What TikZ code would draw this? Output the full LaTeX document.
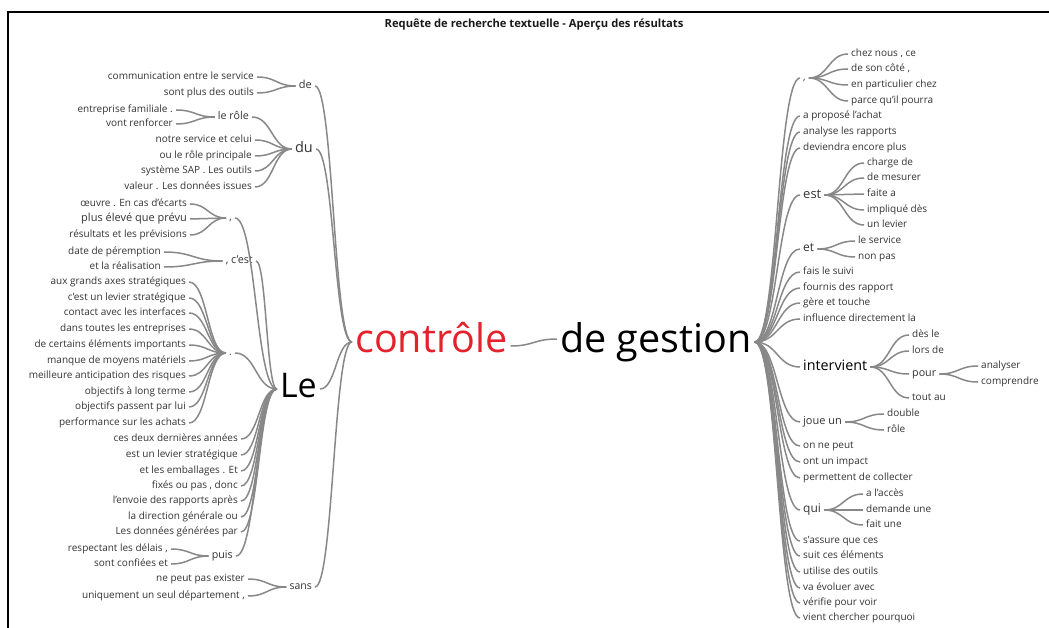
\documentclass[tikz,border=0pt]{standalone}
\usepackage{fontspec}
\setmainfont{Open Sans}
\usetikzlibrary{calc}
\definecolor{ink}{HTML}{333333}
\definecolor{wire}{HTML}{888888}
\definecolor{hot}{HTML}{E3222B}
\begin{document}
\begin{tikzpicture}[x=1pt,y=-1pt,
  sz/.style={font=\fontsize{#1}{#1}\selectfont},
  w/.style={inner xsep=3pt, inner ysep=0pt, text=ink, execute at begin node={\vphantom{Xg}}, sz=10},
  L/.style={w, anchor=east},
  R/.style={w, anchor=west},
  link/.style={draw=wire, line width=1.5pt},
  branch/.style={to path={let \p1=(\tikztostart), \p2=(\tikztotarget), \p3=($(\p1)!.5!(\p2)$) in .. controls (\x3,\y1) and (\x3,\y2) .. (\tikztotarget)}}
]
\useasboundingbox (0,0) rectangle (1049,628);
% frame and heading
\draw[line width=2pt] (8,628) -- (8,12) -- (1049,12);
\node[font=\bfseries\fontsize{11.2}{12}\selectfont, text=black!90] (title) at (534,25) {Requête de recherche textuelle - Aperçu des résultats};

% ---- keyword and its follower
\node[R, sz=39.5, text=hot] (ctl) at (352,342) {contrôle};
\node[R, sz=39.5, text=black] (gest) at (557,342) {de gestion};
\draw[link] ([yshift=-4pt]ctl.east) to[branch] ([yshift=3pt]gest.west);

% ---- words before the keyword
\node[L, sz=11] (de) at (315,86) {de};
\node[L] (de1) at (257,77) {communication entre le service};
\node[L] (de2) at (257,93) {sont plus des outils};

\node[L, sz=14.5] (du) at (316,149) {du};
\node[L, sz=10.7] (role) at (252,117) {le rôle};
\node[L] (role1) at (176,110) {entreprise familiale .};
\node[L] (role2) at (176,124) {vont renforcer};
\node[L] (du1) at (255,140) {notre service et celui};
\node[L] (du2) at (255,156) {ou le rôle principale};
\node[L] (du3) at (255,171) {système SAP . Les outils};
\node[L] (du4) at (255,187) {valeur . Les données issues};

\node[L, sz=34, text=black] (le) at (320,389) {Le};

\node[L] (cm) at (235,218) {,};
\node[L] (cm1) at (190,204) {œuvre . En cas d’écarts};
\node[L, sz=11] (cm2) at (190,219) {plus élevé que prévu};
\node[L] (cm3) at (190,235) {résultats et les prévisions};

\node[L, sz=10.8] (cest) at (256,261) {, c’est};
\node[L] (cest1) at (164,252) {date de péremption};
\node[L] (cest2) at (164,267) {et la réalisation};

\node[L] (dot) at (235,353) {.};
\node[L] (dt1) at (189,282) {aux grands axes stratégiques};
\node[L] (dt2) at (189,298) {c’est un levier stratégique};
\node[L] (dt3) at (189,313) {contact avec les interfaces};
\node[L] (dt4) at (189,329) {dans toutes les entreprises};
\node[L] (dt5) at (189,345) {de certains éléments importants};
\node[L] (dt6) at (189,361) {manque de moyens matériels};
\node[L] (dt7) at (189,376) {meilleure anticipation des risques};
\node[L] (dt8) at (189,392) {objectifs à long terme};
\node[L] (dt9) at (189,407) {objectifs passent par lui};
\node[L] (dt10) at (189,423) {performance sur les achats};

\node[L] (le1) at (241,439) {ces deux dernières années};
\node[L] (le2) at (241,455) {est un levier stratégique};
\node[L] (le3) at (241,471) {et les emballages . Et};
\node[L] (le4) at (241,486) {fixés ou pas , donc};
\node[L] (le5) at (241,501) {l’envoie des rapports après};
\node[L] (le6) at (241,517) {la direction générale ou};
\node[L] (le7) at (241,532) {Les données générées par};

\node[L, sz=10.7] (puis) at (236,556) {puis};
\node[L] (puis1) at (171,549) {respectant les délais ,};
\node[L] (puis2) at (171,564) {sont confiées et};

\node[L, sz=10.5] (sans) at (315,587) {sans};
\node[L] (sans1) at (248,579) {ne peut pas exister};
\node[L] (sans2) at (248,596) {uniquement un seul département ,};

% ---- words after the keyword
\node[R] (rc) at (800,78) {,};
\node[R] (rc1) at (848,54) {chez nous , ce};
\node[R] (rc2) at (848,69) {de son côté ,};
\node[R] (rc3) at (848,85) {en particulier chez};
\node[R] (rc4) at (848,101) {parce qu’il pourra};
\node[R] (ra1) at (800,116) {a proposé l’achat};
\node[R] (ra2) at (800,132) {analyse les rapports};
\node[R] (ra3) at (800,148) {deviendra encore plus};

\node[R, sz=13] (est) at (800,195) {est};
\node[R] (est1) at (864,163) {charge de};
\node[R] (est2) at (864,178) {de mesurer};
\node[R] (est3) at (864,194) {faite a};
\node[R] (est4) at (864,210) {impliqué dès};
\node[R] (est5) at (864,225) {un levier};

\node[R, sz=12] (et) at (800,249) {et};
\node[R] (et1) at (855,241) {le service};
\node[R] (et2) at (855,257) {non pas};

\node[R] (rf1) at (800,272) {fais le suivi};
\node[R] (rf2) at (800,288) {fournis des rapport};
\node[R] (rf3) at (800,303) {gère et touche};
\node[R] (rf4) at (800,319) {influence directement la};

\node[R, sz=14.3, text=black] (iv) at (800,367) {intervient};
\node[R] (iv1) at (909,335) {dès le};
\node[R] (iv2) at (909,351) {lors de};
\node[R, sz=10.7] (pour) at (909,374) {pour};
\node[R] (iv4) at (909,398) {tout au};
\node[R] (pour1) at (978,366) {analyser};
\node[R] (pour2) at (978,382) {comprendre};

\node[R, sz=11] (joue) at (800,422) {joue un};
\node[R] (joue1) at (884,414) {double};
\node[R] (joue2) at (884,430) {rôle};

\node[R] (ro1) at (800,446) {on ne peut};
\node[R] (ro2) at (800,462) {ont un impact};
\node[R] (ro3) at (800,478) {permettent de collecter};

\node[R, sz=12] (qui) at (800,510) {qui};
\node[R] (qui1) at (863,494) {a l’accès};
\node[R] (qui2) at (863,510) {demande une};
\node[R] (qui3) at (863,525) {fait une};

\node[R] (rs1) at (800,541) {s’assure que ces};
\node[R] (rs2) at (800,556) {suit ces éléments};
\node[R] (rs3) at (800,572) {utilise des outils};
\node[R] (rs4) at (800,588) {va évoluer avec};
\node[R] (rs5) at (800,603) {vérifie pour voir};
\node[R] (rs6) at (800,618) {vient chercher pourquoi};

% ---- connectors, left half
\foreach \k in {de,du,le,sans} \draw[link] (\k.east) to[branch] (ctl.west);
\foreach \k in {de1,de2} \draw[link] (\k.east) to[branch] (de.west);
\foreach \k in {role,du1,du2,du3,du4} \draw[link] (\k.east) to[branch] (du.west);
\foreach \k in {role1,role2} \draw[link] (\k.east) to[branch] (role.west);
\foreach \k in {cm,cest,dot,le1,le2,le3,le4,le5,le6,le7,puis} \draw[link] (\k.east) to[branch] (le.west);
\foreach \k in {cm1,cm2,cm3} \draw[link] (\k.east) to[branch] (cm.west);
\foreach \k in {cest1,cest2} \draw[link] (\k.east) to[branch] (cest.west);
\foreach \k in {dt1,dt2,dt3,dt4,dt5,dt6,dt7,dt8,dt9,dt10} \draw[link] (\k.east) to[branch] (dot.west);
\foreach \k in {puis1,puis2} \draw[link] (\k.east) to[branch] (puis.west);
\foreach \k in {sans1,sans2} \draw[link] (\k.east) to[branch] (sans.west);

% ---- connectors, right half
\foreach \k in {rc,ra1,ra2,ra3,est,et,rf1,rf2,rf3,rf4,iv,joue,ro1,ro2,ro3,qui,rs1,rs2,rs3,rs4,rs5,rs6}
  \draw[link] (gest.east) to[branch] (\k.west);
\foreach \k in {rc1,rc2,rc3,rc4} \draw[link] (rc.east) to[branch] (\k.west);
\foreach \k in {est1,est2,est3,est4,est5} \draw[link] (est.east) to[branch] (\k.west);
\foreach \k in {et1,et2} \draw[link] (et.east) to[branch] (\k.west);
\foreach \k in {iv1,iv2,pour,iv4} \draw[link] (iv.east) to[branch] (\k.west);
\foreach \k in {pour1,pour2} \draw[link] (pour.east) to[branch] (\k.west);
\foreach \k in {joue1,joue2} \draw[link] (joue.east) to[branch] (\k.west);
\foreach \k in {qui1,qui2,qui3} \draw[link] (qui.east) to[branch] (\k.west);
\end{tikzpicture}
\end{document}
